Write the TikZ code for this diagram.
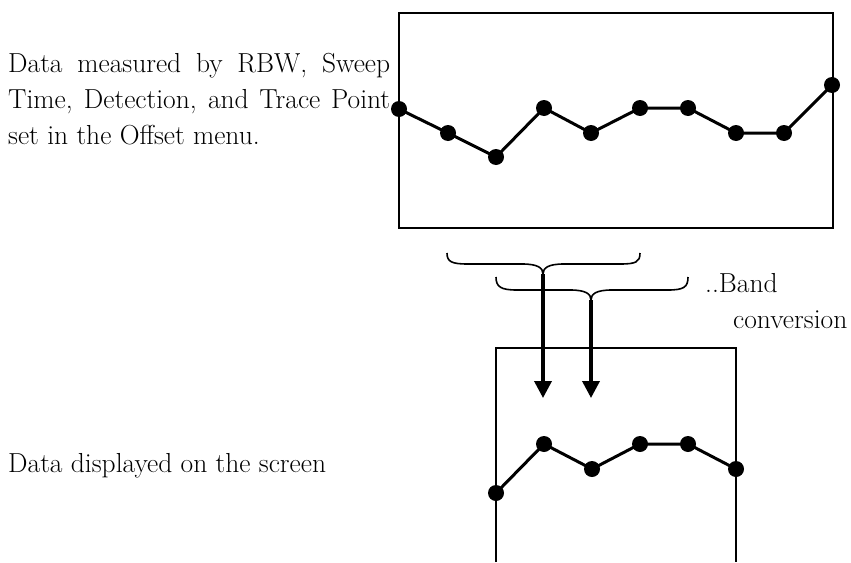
\documentclass[tikz,border=0pt]{standalone}
\usepackage{fontspec}
\usetikzlibrary{arrows.meta}
\tikzset{
  dot/.style={circle,fill=black,inner sep=0pt,minimum size=16pt},
  trace/.style={line width=3pt},
  frame/.style={line width=1.8pt},
  bracepath/.style={line width=1.6pt},
  bigarrow/.style={line width=3.6pt,-{Triangle[length=17pt,width=17pt]}},
  lbl/.style={anchor=base west,inner sep=0pt,font=\fontsize{27.5}{36}\selectfont}
}
\begin{document}
\begin{tikzpicture}[x=1pt,y=-1pt]
\useasboundingbox (0,0) rectangle (851,562);
% top frame
\draw[frame] (399,13) rectangle (833,228);
% bottom frame (open at bottom)
\draw[frame] (496,562) -- (496,348) -- (736,348) -- (736,562);
% texts
\node[lbl] (l1) at (8,72) {\makebox[382pt][s]{Data measured by RBW, Sweep}};
\node[lbl] (l2) at (8,108) {\makebox[382pt][s]{Time, Detection, and Trace Point}};
\node[lbl] (l3) at (8,144) {set in the Offset menu.};
\node[lbl] (l4) at (8,472) {Data displayed on the screen};
\node[lbl] (l5) at (705,292) {..Band};
\node[lbl] (l6) at (733,328) {conversion};
% top trace
\foreach \n/\x/\y in {1/399/109,2/448/133,3/496/157,4/544/108,5/591/133,6/640/108,7/688/108,8/736/133,9/784/133,10/832/85}
  \node[dot] (t\n) at (\x,\y) {};
\draw[trace] (t1.center) -- (t2.center) -- (t3.center) -- (t4.center) -- (t5.center) -- (t6.center) -- (t7.center) -- (t8.center) -- (t9.center) -- (t10.center);
% bottom trace
\foreach \n/\x/\y in {1/496/493,2/544/444,3/592/469,4/640/444,5/688/444,6/736/469}
  \node[dot] (b\n) at (\x,\y) {};
\draw[trace] (b1.center) -- (b2.center) -- (b3.center) -- (b4.center) -- (b5.center) -- (b6.center);
% braces
\coordinate (ba) at (543,274);
\coordinate (bb) at (591,300);
\draw[bracepath] (447,253) .. controls (447,262) and (452,264) .. (468,264)
   -- (522,264) .. controls (538,264) and (543,268) .. (ba)
   .. controls (543,268) and (548,264) .. (564,264)
   -- (620,264) .. controls (636,264) and (640,262) .. (640,253);
\draw[bracepath] (496,277) .. controls (496,287) and (501,290) .. (517,290)
   -- (570,290) .. controls (586,290) and (591,294) .. (bb)
   .. controls (591,294) and (596,290) .. (612,290)
   -- (668,290) .. controls (684,290) and (688,287) .. (688,277);
% arrows
\coordinate (ea) at (543,398);
\coordinate (eb) at (591,398);
\draw[bigarrow] (ba) -- (ea);
\draw[bigarrow] (bb) -- (eb);
\end{tikzpicture}
\end{document}
